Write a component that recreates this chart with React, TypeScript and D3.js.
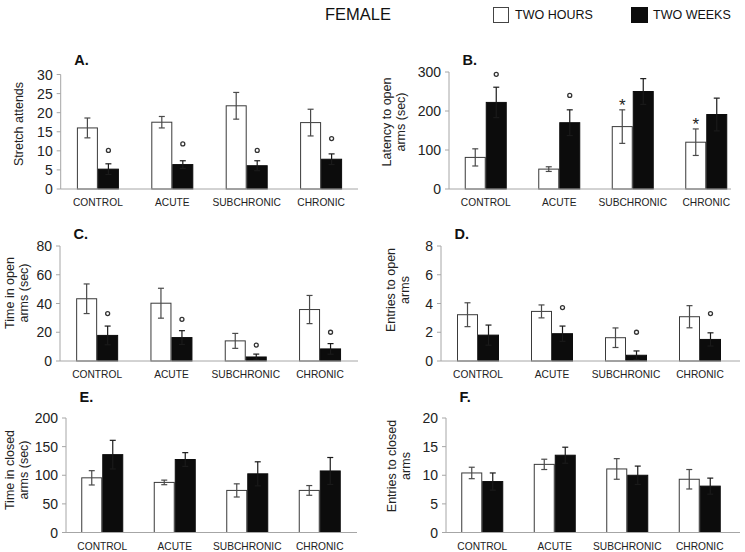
import * as d3 from "d3";

const categories = ["CONTROL", "ACUTE", "SUBCHRONIC", "CHRONIC"];
const seriesNames = ["TWO HOURS", "TWO WEEKS"];

// A. Stretch attends
const stretchHours = [16, 17.5, 21.8, 17.4];
const stretchHoursErr = [2.6, 1.5, 3.5, 3.5];
const stretchWeeks = [5.2, 6.4, 6.1, 7.8];
const stretchWeeksErr = [1.4, 1.0, 1.3, 1.4];
const stretchDeg = [10.1, 11.8, 10.1, 13.2];

// B. Latency to open arms
const latencyHours = [81, 51, 160, 120];
const latencyHoursErr = [22, 6, 43, 34];
const latencyWeeks = [222, 170, 250, 191];
const latencyWeeksErr = [39, 33, 33, 42];
const latencyStar = [null, null, 232, 184];
const latencyDeg = [294, 240, null, null];

// C. Time in open arms
const openTimeHours = [43.3, 40.2, 14, 35.8];
const openTimeHoursErr = [10.3, 10.4, 5.2, 9.8];
const openTimeWeeks = [17.8, 16.3, 2.8, 8.4];
const openTimeWeeksErr = [6.5, 4.8, 2.0, 3.7];
const openTimeDeg = [33, 29, 11.1, 20];

// D. Entries to open arms
const openEntryHours = [3.22, 3.45, 1.62, 3.08];
const openEntryHoursErr = [0.83, 0.45, 0.68, 0.77];
const openEntryWeeks = [1.8, 1.9, 0.4, 1.5];
const openEntryWeeksErr = [0.7, 0.53, 0.3, 0.46];
const openEntryDeg = [null, 3.72, 2.0, 3.3];

// E. Time in closed arms
const closedTimeHours = [95.5, 87.5, 73.5, 73.5];
const closedTimeHoursErr = [12.5, 4, 11.5, 8.5];
const closedTimeWeeks = [136, 127.5, 102.5, 107.5];
const closedTimeWeeksErr = [25, 12, 21, 23.5];

// F. Entries to closed arms
const closedEntryHours = [10.4, 11.9, 11.1, 9.3];
const closedEntryHoursErr = [1.0, 0.9, 1.8, 1.7];
const closedEntryWeeks = [8.9, 13.5, 10.0, 8.1];
const closedEntryWeeksErr = [1.5, 1.4, 1.6, 1.4];

const FONT = "'Liberation Sans', Arial, sans-serif";
const AXIS = "#a6a6a6";

interface PanelDef {
  letter: string;
  title: string[];
  ticks: number[];
  hours: number[];
  hoursErr: number[];
  weeks: number[];
  weeksErr: number[];
  deg?: (number | null)[];
  star?: (number | null)[];
  left: number;
  band: number;
  axisEnd: number;
  top: number;
  bottom: number;
  titleX: number;
  titleY: number;
  letterY: number;
}

const panels: PanelDef[] = [
  {
    letter: "A.", title: ["Stretch attends"], ticks: [0, 5, 10, 15, 20, 25, 30],
    hours: stretchHours, hoursErr: stretchHoursErr, weeks: stretchWeeks, weeksErr: stretchWeeksErr,
    deg: stretchDeg,
    left: 60.7, band: 74.4, axisEnd: 358, top: 74.5, bottom: 189, titleX: 22.5, titleY: 124, letterY: 65,
  },
  {
    letter: "B.", title: ["Latency to open", "arms (sec)"], ticks: [0, 100, 200, 300],
    hours: latencyHours, hoursErr: latencyHoursErr, weeks: latencyWeeks, weeksErr: latencyWeeksErr,
    deg: latencyDeg, star: latencyStar,
    left: 449, band: 73.5, axisEnd: 731, top: 72, bottom: 189, titleX: 391, titleY: 122, letterY: 65,
  },
  {
    letter: "C.", title: ["Time in open", "arms (sec)"], ticks: [0, 20, 40, 60, 80],
    hours: openTimeHours, hoursErr: openTimeHoursErr, weeks: openTimeWeeks, weeksErr: openTimeWeeksErr,
    deg: openTimeDeg,
    left: 60, band: 74.3, axisEnd: 358, top: 246, bottom: 361, titleX: 14, titleY: 293, letterY: 239,
  },
  {
    letter: "D.", title: ["Entries to open", "arms"], ticks: [0, 2, 4, 6, 8],
    hours: openEntryHours, hoursErr: openEntryHoursErr, weeks: openEntryWeeks, weeksErr: openEntryWeeksErr,
    deg: openEntryDeg,
    left: 441, band: 74, axisEnd: 740, top: 246, bottom: 361, titleX: 395, titleY: 290, letterY: 239,
  },
  {
    letter: "E.", title: ["Time in closed", "arms (sec)"], ticks: [0, 50, 100, 150, 200],
    hours: closedTimeHours, hoursErr: closedTimeHoursErr, weeks: closedTimeWeeks, weeksErr: closedTimeWeeksErr,
    left: 66, band: 72.5, axisEnd: 357, top: 418, bottom: 532.5, titleX: 14, titleY: 470, letterY: 402,
  },
  {
    letter: "F.", title: ["Entries to closed", "arms"], ticks: [0, 5, 10, 15, 20],
    hours: closedEntryHours, hoursErr: closedEntryHoursErr, weeks: closedEntryWeeks, weeksErr: closedEntryWeeksErr,
    left: 446, band: 72.5, axisEnd: 740, top: 418, bottom: 532.5, titleX: 396, titleY: 466, letterY: 402,
  },
];

function Panel({ p }: { p: PanelDef }) {
  const pairWidth = 42;
  const pad = 1 - pairWidth / p.band;
  const x = d3
    .scaleBand<string>()
    .domain(categories)
    .range([p.left, p.left + p.band * categories.length])
    .paddingInner(pad)
    .paddingOuter(pad / 2);
  const x1 = d3.scaleBand<string>().domain(seriesNames).range([0, x.bandwidth()]);
  const y = d3
    .scaleLinear()
    .domain([0, d3.max(p.ticks) as number])
    .range([p.bottom, p.top]);
  const bw = x1.bandwidth();

  const series = [
    { name: seriesNames[0], vals: p.hours, errs: p.hoursErr, fill: "#ffffff", stroke: "#3a3a3a", err: "#4a4a4a" },
    { name: seriesNames[1], vals: p.weeks, errs: p.weeksErr, fill: "#0c0c0c", stroke: "#0c0c0c", err: "#1a1a1a" },
  ];

  return (
    <g>
      <text x={p.left + 13.5} y={p.letterY} fontFamily={FONT} fontSize={14.5} fontWeight="bold" fill="#111">
        {p.letter}
      </text>
      <text
        transform={`translate(${p.titleX},${p.titleY}) rotate(-90)`}
        textAnchor="middle"
        fontFamily={FONT}
        fontSize={12.5}
        fill="#222"
      >
        {p.title.map((t, i) => (
          <tspan key={i} x={0} dy={i === 0 ? 0 : 14}>
            {t}
          </tspan>
        ))}
      </text>
      {p.ticks.map((t) => (
        <g key={t}>
          <line x1={p.left - 4} x2={p.left} y1={y(t)} y2={y(t)} stroke={AXIS} />
          <text
            x={p.left - 8}
            y={y(t)}
            dy="0.36em"
            textAnchor="end"
            fontFamily={FONT}
            fontSize={14}
            fill="#222"
          >
            {t}
          </text>
        </g>
      ))}
      {series.map((s) =>
        categories.map((c, i) => {
          const bx = (x(c) as number) + (x1(s.name) as number);
          const v = s.vals[i];
          const e = s.errs[i];
          const cx = bx + bw / 2;
          return (
            <g key={s.name + c}>
              <rect
                x={bx + 0.5}
                y={y(v)}
                width={bw - 1}
                height={p.bottom - y(v)}
                fill={s.fill}
                stroke={s.stroke}
                strokeWidth={1}
              />
              <line x1={cx} x2={cx} y1={y(v + e)} y2={y(v - e)} stroke={s.err} strokeWidth={1.2} />
              <line x1={cx - 3} x2={cx + 3} y1={y(v + e)} y2={y(v + e)} stroke={s.err} strokeWidth={1.2} />
              <line x1={cx - 3} x2={cx + 3} y1={y(v - e)} y2={y(v - e)} stroke={s.err} strokeWidth={1.2} />
            </g>
          );
        })
      )}
      {p.deg &&
        categories.map((c, i) =>
          p.deg![i] == null ? null : (
            <circle
              key={"d" + c}
              cx={(x(c) as number) + (x1(seriesNames[1]) as number) + bw / 2}
              cy={y(p.deg![i] as number)}
              r={2}
              fill="#fff"
              stroke="#333"
              strokeWidth={1.3}
            />
          )
        )}
      {p.star &&
        categories.map((c, i) =>
          p.star![i] == null ? null : (
            <text
              key={"s" + c}
              x={(x(c) as number) + (x1(seriesNames[0]) as number) + bw / 2}
              y={y(p.star![i] as number)}
              dy="0.75em"
              textAnchor="middle"
              fontFamily={FONT}
              fontSize={17}
              fill="#222"
            >
              *
            </text>
          )
        )}
      <line x1={p.left} x2={p.left} y1={p.top} y2={p.bottom} stroke={AXIS} />
      <line x1={p.left} x2={p.axisEnd} y1={p.bottom} y2={p.bottom} stroke={AXIS} />
      {categories.map((c) => (
        <text
          key={"c" + c}
          x={(x(c) as number) + x.bandwidth() / 2}
          y={p.bottom + 17}
          textAnchor="middle"
          fontFamily={FONT}
          fontSize={10.2}
          fill="#222"
        >
          {c}
        </text>
      ))}
    </g>
  );
}

export default function App() {
  return (
    <svg
      width={745}
      height={552}
      style={{ position: "absolute", left: 0, top: 0, background: "#fff" }}
    >
      <rect width={745} height={552} fill="#fff" />
      <text x={325} y={20} fontFamily={FONT} fontSize={16.5} fill="#111">
        FEMALE
      </text>
      <rect x={493.5} y={7.5} width={15} height={15} fill="#fff" stroke="#444" />
      <text x={515} y={19} fontFamily={FONT} fontSize={12.5} fill="#111">
        {seriesNames[0]}
      </text>
      <rect x={631.5} y={7.5} width={16} height={15} fill="#0c0c0c" stroke="#0c0c0c" />
      <text x={653} y={19} fontFamily={FONT} fontSize={12.5} fill="#111">
        {seriesNames[1]}
      </text>
      {panels.map((p) => (
        <Panel key={p.letter} p={p} />
      ))}
    </svg>
  );
}
